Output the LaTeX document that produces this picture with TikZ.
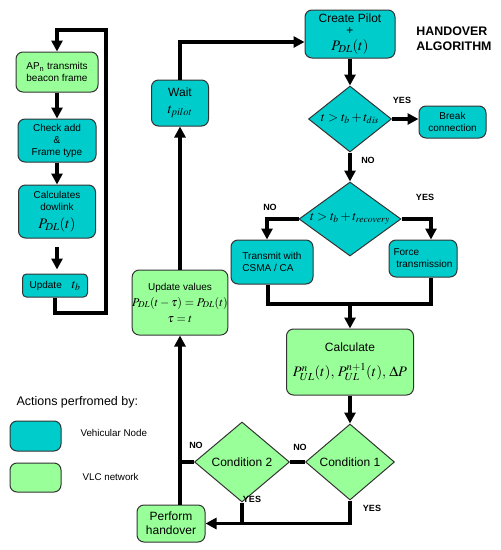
\documentclass[tikz,border=0pt]{standalone}
\usepackage{mathptmx}
\usepackage[no-math]{fontspec}
\setmainfont{Liberation Sans}
\usetikzlibrary{shapes.geometric,arrows.meta}
\definecolor{cy}{RGB}{0,204,204}
\definecolor{lg}{RGB}{153,255,153}
\begin{document}
\begin{tikzpicture}[x=1pt,y=-1pt,
 bx/.style={draw=black!80,line width=1pt,rounded corners=7pt,align=center,inner sep=0pt,font=\fontsize{10}{12}\selectfont},
 cbox/.style={bx,fill=cy},
 gbox/.style={bx,fill=lg},
 dia/.style={diamond,draw=black!80,line width=1pt,inner sep=0pt},
 conn/.style={line width=3.2pt},
 arr/.style={conn,-{Triangle[length=11pt,width=11pt]}},
 lab/.style={font=\fontsize{9}{10}\selectfont\bfseries},
 dtxt/.style={font=\fontsize{13}{13}\selectfont},
]
\useasboundingbox (0,0) rectangle (501,550);
% left column
\node[gbox,minimum width=82,minimum height=40] (ap) at (57,72) {AP\textsubscript{n} transmits\\beacon frame};
\node[cbox,minimum width=78,minimum height=43] (chk) at (57,140.5) {Check add\\\&\\Frame type};
\node[cbox,minimum width=77,minimum height=53] (cal) at (57,211.5) {Calculates\\dowlink\\[6pt]{\fontsize{14.5}{14}\selectfont$P_{DL}(t)$}};
\node[cbox,minimum width=65,minimum height=23,rounded corners=4pt] (upd) at (55,285.5) {Update\quad{\fontsize{13}{13}\selectfont$t_b$}};
% middle
\node[cbox,minimum width=57,minimum height=46,font=\fontsize{12}{14}\selectfont] (wt) at (180,103) {Wait\\[3pt]{\fontsize{14}{14}\selectfont$t_{pilot}$}};
\node[gbox,minimum width=90,minimum height=65] (uv) at (180,302.5) {Update values\\[4pt]{\fontsize{12}{14}\selectfont$P_{DL}(t-\tau)=P_{DL}(t)$}\\[4pt]{\fontsize{12}{14}\selectfont$\tau=t$}};
\node[gbox,minimum width=68,minimum height=37,font=\fontsize{12}{14}\selectfont] (ph) at (171,523.5) {Perform\\handover};
% right
\node[cbox,minimum width=90,minimum height=48,font=\fontsize{12}{12}\selectfont] (cp) at (350,34) {Create Pilot\\+\\[4pt]{\fontsize{14.5}{14}\selectfont$P_{DL}(t)$}};
\node[font=\fontsize{12.4}{15}\selectfont\bfseries,align=left] (title) at (454,39) {HANDOVER\\ALGORITHM};
\node[dia,minimum width=83,minimum height=66,fill=cy] (d1) at (350,119) {};
\node[dtxt] (d1t) at (350,119) {$t>t_b+t_{dis}$};
\node[cbox,minimum width=67,minimum height=32] (brk) at (452.5,122) {Break\\connection};
\node[dia,minimum width=102,minimum height=74,fill=cy] (d2) at (350,219) {};
\node[dtxt] (d2t) at (350,219) {$t>t_b+t_{recovery}$};
\node[cbox,minimum width=82,minimum height=44,align=left] (tr) at (272,262) {Transmit with\\CSMA / CA};
\node[cbox,minimum width=68,minimum height=37,align=left] (fo) at (423,258.5) {Force\\\ transmission};
\node[gbox,minimum width=127,minimum height=66,font=\fontsize{12}{14}\selectfont] (calc) at (350,362) {Calculate\\[11pt]{\fontsize{14.5}{14}\selectfont$P^{n}_{UL}(t),\,P^{n+1}_{UL}(t),\,\Delta P$}};
\node[dia,minimum width=89,minimum height=76,fill=lg] (c1) at (350,462) {};
\node[font=\fontsize{12}{14}\selectfont] (c1t) at (350,462) {Condition 1};
\node[dia,minimum width=95,minimum height=80,fill=lg] (c2) at (242,462) {};
\node[font=\fontsize{12}{14}\selectfont] (c2t) at (242,462) {Condition 2};
% legend
\node[anchor=west,font=\fontsize{12.5}{14}\selectfont] (leg) at (13,402) {Actions perfromed by:};
\node[cbox,minimum width=51,minimum height=30] (lc) at (35.5,436) {};
\node[anchor=west,font=\fontsize{9.8}{11}\selectfont] (lct) at (77,433) {Vehicular Node};
\node[gbox,minimum width=51,minimum height=29] (lgb) at (35.5,477.5) {};
\node[anchor=west,font=\fontsize{9.8}{11}\selectfont] (lgt) at (79,477) {VLC network};
% connectors left loop
\coordinate (lb) at (106,313);
\coordinate (lt) at (106,30);
\draw[arr] (upd.south) |- (lb) -- (lt) -| (ap.north);
\draw[arr] (ap.south) -- (chk.north);
\draw[arr] (chk.south) -- (cal.north);
\draw[arr] ([yshift=-8pt]cal.south) -- ([yshift=4pt]upd.north -| cal.south);
% middle
\draw[arr] (uv.north) -- (wt.south);
\draw[arr] (wt.north) |- ([yshift=-8pt]cp.west);
% right
\draw[arr] (cp.south) -- (d1.north);
\draw[arr] (d1.east) -- (d1.east -| brk.west);
\draw[arr] (d1.south) -- (d2.north);
\draw[arr] (d2.west) -| ([xshift=-5pt]tr.north);
\draw[arr] (d2.east) -| ([xshift=8pt]fo.north);
\coordinate (mg) at (350,304);
\draw[conn] ([xshift=-4pt]tr.south) |- (mg) -| ([xshift=8pt]fo.south);
\draw[arr] (mg) -- (calc.north);
\draw[arr] (calc.south) -- (c1.north);
\draw[conn] (c1.west) -- (c2.east);
\draw[arr] (c1.south) |- (ph.east);
\draw[conn] (c2.south) -- (c2.south |- ph.east);
\draw[conn] (c2.west) -- (c2.west -| uv.south);
\draw[arr] (ph.north -| uv.south) -- (uv.south);
% labels
\node[lab] (y1) at (402,100) {YES};
\node[lab] (n1) at (368,160) {NO};
\node[lab] (n2) at (270,207) {NO};
\node[lab] (y2) at (425,197) {YES};
\node[lab] (n3) at (300,447) {NO};
\node[lab] (y3) at (252,499) {YES};
\node[lab] (y4) at (372,508) {YES};
\node[lab] (n4) at (196,445) {NO};
\end{tikzpicture}
\end{document}
